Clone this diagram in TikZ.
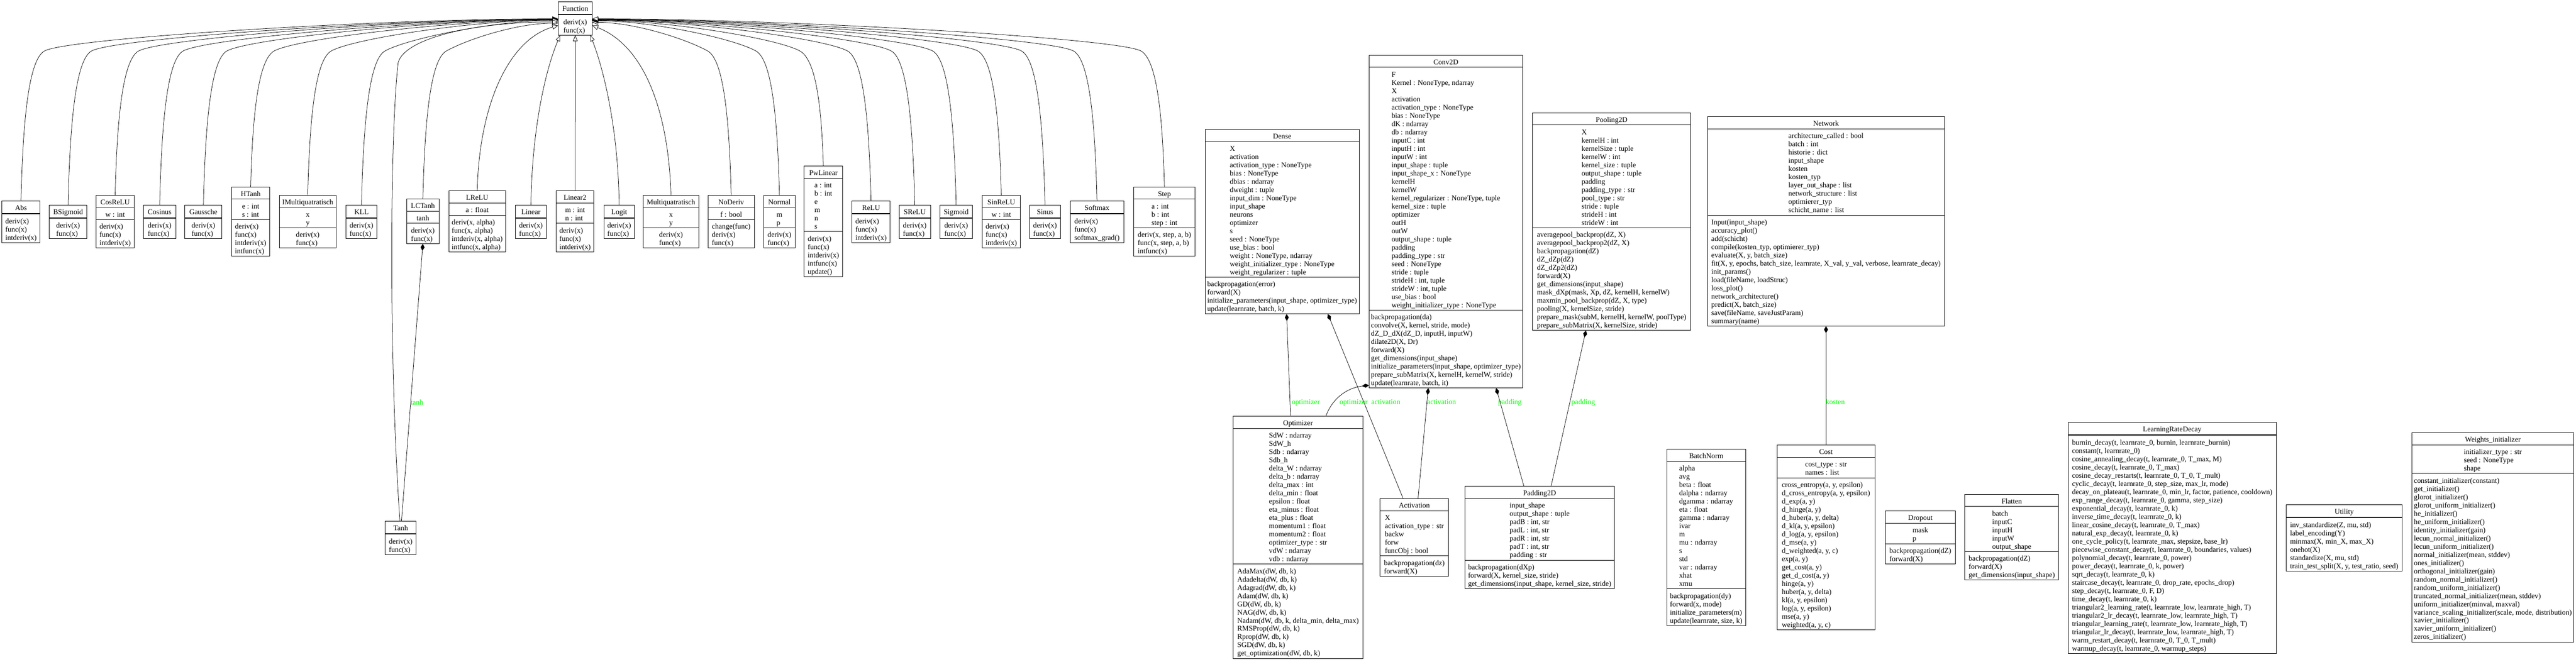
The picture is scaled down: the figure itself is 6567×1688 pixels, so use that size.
\documentclass[tikz,border=0pt]{standalone}
\usepackage{fontspec}
\setmainfont{Liberation Serif}
\usetikzlibrary{arrows.meta,calc}

\tikzset{
  classbox/.style={draw, line width=1.3pt, inner sep=0pt, outer sep=0pt},
  sect/.style={line width=1.3pt},
  txt/.style={inner sep=0pt, outer sep=0pt},
  inh/.style={line width=1pt, -{Triangle[length=15pt,width=12pt,fill=white]}},
  comp/.style={line width=1pt, {Diamond[length=18pt,width=10pt]}-},
  lbl/.style={text=green, inner sep=0pt, outer sep=0pt, anchor=west},
}

% #1 name, #2 left x, #3 top y, #4 width, #5 title, #6 n attrs, #7 attrs, #8 n methods, #9 methods
\newcommand{\umlclass}[9]{%
  \pgfmathsetmacro{\uha}{(#6==0)?2:(21*#6+10)}%
  \pgfmathsetmacro{\uhm}{(#8==0)?2:(21*#8+10)}%
  \pgfmathsetmacro{\uht}{31+\uha+\uhm}%
  \node[classbox, minimum width=#4pt, minimum height=\uht pt, anchor=north west] (#1) at (#2,-#3) {};
  \node[txt, anchor=north] (#1-t) at ($(#1.north)+(0,-8.8)$) {\strut #5};
  \draw[sect] ($(#1.north west)+(0,-31)$) -- ($(#1.north east)+(0,-31)$);
  \ifnum#6>0 \node[txt, anchor=north] (#1-a) at ($(#1.north)+(0,-40.5)$) {\begin{tabular}{@{}l@{}}#7\end{tabular}};\fi
  \draw[sect] ($(#1.north west)+(0,-31-\uha)$) -- ($(#1.north east)+(0,-31-\uha)$);
  \ifnum#8>0 \node[txt, anchor=north] (#1-m) at ($(#1.north)+(0,-40.5-\uha)$) {\begin{tabular}{@{}l@{}}#9\end{tabular}};\fi
}

% generalisation edges to Function (left side / right side)
\newcommand{\inhL}[4]{\draw[inh] (#1.north) .. controls (#2+5,{-0.45*#3-71.5}) and (#2+20,-152) .. (#2+60,-130) .. controls (#2+120,-97) and ({1423-0.35*(1363-#2)},-#4) .. ($(Function.north west)+(0,5-#4)$);}
\newcommand{\inhR}[4]{\draw[inh] (#1.north) .. controls (#2-5,{-0.45*#3-71.5}) and (#2-20,-152) .. (#2-60,-130) .. controls (#2-120,-97) and ({1510+0.35*(#2-1570)},-#4) .. ($(Function.north east)+(0,5-#4)$);}

\begin{document}
\begin{tikzpicture}[x=1pt,y=1pt,font=\fontsize{18.67}{21}\selectfont]
\path[fill=white] (0,0) rectangle (6567,-1688);
\useasboundingbox (0,0) rectangle (6567,-1688);

% ---------- classes ----------
\umlclass{Function}{1423}{5}{87}{Function}{0}{}{2}{deriv(x)\\func(x)}
\umlclass{Abs}{5}{513}{97}{Abs}{0}{}{3}{deriv(x)\\func(x)\\intderiv(x)}
\umlclass{BSigmoid}{126}{524}{95}{BSigmoid}{0}{}{2}{deriv(x)\\func(x)}
\umlclass{CosReLU}{245}{498}{97}{CosReLU}{1}{w : int}{3}{deriv(x)\\func(x)\\intderiv(x)}
\umlclass{Cosinus}{366}{524}{82}{Cosinus}{0}{}{2}{deriv(x)\\func(x)}
\umlclass{Gaussche}{471}{524}{95}{Gaussche}{0}{}{2}{deriv(x)\\func(x)}
\umlclass{HTanh}{591}{477}{96}{HTanh}{2}{e : int\\s : int}{4}{deriv(x)\\func(x)\\intderiv(x)\\intfunc(x)}
\umlclass{IMultiquatratisch}{712}{498}{145}{IMultiquatratisch}{2}{x\\y}{2}{deriv(x)\\func(x)}
\umlclass{KLL}{882}{524}{79}{KLL}{0}{}{2}{deriv(x)\\func(x)}
\umlclass{LCTanh}{1037}{508}{82}{LCTanh}{1}{tanh}{2}{deriv(x)\\func(x)}
\umlclass{LReLU}{1144}{487}{145}{LReLU}{1}{a : float}{4}{deriv(x, alpha)\\func(x, alpha)\\intderiv(x, alpha)\\intfunc(x, alpha)}
\umlclass{Linear}{1314}{524}{79}{Linear}{0}{}{2}{deriv(x)\\func(x)}
\umlclass{Linear2}{1418}{487}{96}{Linear2}{2}{m : int\\n : int}{3}{deriv(x)\\func(x)\\intderiv(x)}
\umlclass{Logit}{1540}{524}{77}{Logit}{0}{}{2}{deriv(x)\\func(x)}
\umlclass{Multiquatratisch}{1640}{498}{141}{Multiquatratisch}{2}{x\\y}{2}{deriv(x)\\func(x)}
\umlclass{NoDeriv}{1805}{498}{118}{NoDeriv}{1}{f : bool}{3}{change(func)\\deriv(x)\\func(x)}
\umlclass{Normal}{1947}{498}{80}{Normal}{2}{m\\p}{2}{deriv(x)\\func(x)}
\umlclass{PwLinear}{2050}{424}{98}{PwLinear}{6}{a : int\\b : int\\e\\m\\n\\s}{5}{deriv(x)\\func(x)\\intderiv(x)\\intfunc(x)\\update()}
\umlclass{ReLU}{2172}{513}{97}{ReLU}{0}{}{3}{deriv(x)\\func(x)\\intderiv(x)}
\umlclass{SReLU}{2292}{524}{80}{SReLU}{0}{}{2}{deriv(x)\\func(x)}
\umlclass{Sigmoid}{2396}{524}{83}{Sigmoid}{0}{}{2}{deriv(x)\\func(x)}
\umlclass{SinReLU}{2504}{498}{97}{SinReLU}{1}{w : int}{3}{deriv(x)\\func(x)\\intderiv(x)}
\umlclass{Sinus}{2625}{524}{78}{Sinus}{0}{}{2}{deriv(x)\\func(x)}
\umlclass{Softmax}{2728}{513}{137}{Softmax}{0}{}{3}{deriv(x)\\func(x)\\softmax\_grad()}
\umlclass{Step}{2890}{477}{157}{Step}{3}{a : int\\b : int\\step : int}{3}{deriv(x, step, a, b)\\func(x, step, a, b)\\intfunc(x)}
\umlclass{Tanh}{982}{1330}{79}{Tanh}{0}{}{2}{deriv(x)\\func(x)}

\umlclass{Dense}{3072}{330}{393}{Dense}{16}{X\\activation\\activation\_type : NoneType\\bias : NoneType\\dbias : ndarray\\dweight : tuple\\input\_dim : NoneType\\input\_shape\\neurons\\optimizer\\s\\seed : NoneType\\use\_bias : bool\\weight : NoneType, ndarray\\weight\_initializer\_type : NoneType\\weight\_regularizer : tuple}{4}{backpropagation(error)\\forward(X)\\initialize\_parameters(input\_shape, optimizer\_type)\\update(learnrate, batch, k)}

\umlclass{Conv2D}{3490}{141}{392}{Conv2D}{29}{F\\Kernel : NoneType, ndarray\\X\\activation\\activation\_type : NoneType\\bias : NoneType\\dK : ndarray\\db : ndarray\\inputC : int\\inputH : int\\inputW : int\\input\_shape : tuple\\input\_shape\_x : NoneType\\kernelH\\kernelW\\kernel\_regularizer : NoneType, tuple\\kernel\_size : tuple\\optimizer\\outH\\outW\\output\_shape : tuple\\padding\\padding\_type : str\\seed : NoneType\\stride : tuple\\strideH : int, tuple\\strideW : int, tuple\\use\_bias : bool\\weight\_initializer\_type : NoneType}{9}{backpropagation(da)\\convolve(X, kernel, stride, mode)\\dZ\_D\_dX(dZ\_D, inputH, inputW)\\dilate2D(X, Dr)\\forward(X)\\get\_dimensions(input\_shape)\\initialize\_parameters(input\_shape, optimizer\_type)\\prepare\_subMatrix(X, kernelH, kernelW, stride)\\update(learnrate, batch, it)}

\umlclass{Pooling2D}{3907}{288}{403}{Pooling2D}{12}{X\\kernelH : int\\kernelSize : tuple\\kernelW : int\\kernel\_size : tuple\\output\_shape : tuple\\padding\\padding\_type : str\\pool\_type : str\\stride : tuple\\strideH : int\\strideW : int}{12}{averagepool\_backprop(dZ, X)\\averagepool\_backprop2(dZ, X)\\backpropagation(dZ)\\dZ\_dZp(dZ)\\dZ\_dZp2(dZ)\\forward(X)\\get\_dimensions(input\_shape)\\mask\_dXp(mask, Xp, dZ, kernelH, kernelW)\\maxmin\_pool\_backprop(dZ, X, type)\\pooling(X, kernelSize, stride)\\prepare\_mask(subM, kernelH, kernelW, poolType)\\prepare\_subMatrix(X, kernelSize, stride)}

\umlclass{Network}{4353}{298}{604}{Network}{10}{architecture\_called : bool\\batch : int\\historie : dict\\input\_shape\\kosten\\kosten\_typ\\layer\_out\_shape : list\\network\_structure : list\\optimierer\_typ\\schicht\_name : list}{13}{Input(input\_shape)\\accuracy\_plot()\\add(schicht)\\compile(kosten\_typ, optimierer\_typ)\\evaluate(X, y, batch\_size)\\fit(X, y, epochs, batch\_size, learnrate, X\_val, y\_val, verbose, learnrate\_decay)\\init\_params()\\load(fileName, loadStruc)\\loss\_plot()\\network\_architecture()\\predict(X, batch\_size)\\save(fileName, saveJustParam)\\summary(name)}

\umlclass{Optimizer}{3143}{1062}{332}{Optimizer}{16}{SdW : ndarray\\SdW\_h\\Sdb : ndarray\\Sdb\_h\\delta\_W : ndarray\\delta\_b : ndarray\\delta\_max : int\\delta\_min : float\\epsilon : float\\eta\_minus : float\\eta\_plus : float\\momentum1 : float\\momentum2 : float\\optimizer\_type : str\\vdW : ndarray\\vdb : ndarray}{11}{AdaMax(dW, db, k)\\Adadelta(dW, db, k)\\Adagrad(dW, db, k)\\Adam(dW, db, k)\\GD(dW, db, k)\\NAG(dW, db, k)\\Nadam(dW, db, k, delta\_min, delta\_max)\\RMSProp(dW, db, k)\\Rprop(dW, db, k)\\SGD(dW, db, k)\\get\_optimization(dW, db, k)}

\umlclass{Activation}{3518}{1272}{175}{Activation}{5}{X\\activation\_type : str\\backw\\forw\\funcObj : bool}{2}{backpropagation(dz)\\forward(X)}

\umlclass{Padding2D}{3734}{1241}{382}{Padding2D}{7}{input\_shape\\output\_shape : tuple\\padB : int, str\\padL : int, str\\padR : int, str\\padT : int, str\\padding : str}{3}{backpropagation(dXp)\\forward(X, kernel\_size, stride)\\get\_dimensions(input\_shape, kernel\_size, stride)}

\umlclass{BatchNorm}{4249}{1146}{201}{BatchNorm}{15}{alpha\\avg\\beta : float\\dalpha : ndarray\\dgamma : ndarray\\eta : float\\gamma : ndarray\\ivar\\m\\mu : ndarray\\s\\std\\var : ndarray\\xhat\\xmu}{4}{backpropagation(dy)\\forward(x, mode)\\initialize\_parameters(m)\\update(learnrate, size, k)}

\umlclass{Cost}{4530}{1136}{250}{Cost}{2}{cost\_type : str\\names : list}{18}{cross\_entropy(a, y, epsilon)\\d\_cross\_entropy(a, y, epsilon)\\d\_exp(a, y)\\d\_hinge(a, y)\\d\_huber(a, y, delta)\\d\_kl(a, y, epsilon)\\d\_log(a, y, epsilon)\\d\_mse(a, y)\\d\_weighted(a, y, c)\\exp(a, y)\\get\_cost(a, y)\\get\_d\_cost(a, y)\\hinge(a, y)\\huber(a, y, delta)\\kl(a, y, epsilon)\\log(a, y, epsilon)\\mse(a, y)\\weighted(a, y, c)}

\umlclass{Dropout}{4806}{1304}{179}{Dropout}{2}{mask\\p}{2}{backpropagation(dZ)\\forward(X)}

\umlclass{Flatten}{5009}{1261}{239}{Flatten}{5}{batch\\inputC\\inputH\\inputW\\output\_shape}{3}{backpropagation(dZ)\\forward(X)\\get\_dimensions(input\_shape)}

\umlclass{LRDecay}{5272}{1078}{531}{LearningRateDecay}{0}{}{26}{burnin\_decay(t, learnrate\_0, burnin, learnrate\_burnin)\\constant(t, learnrate\_0)\\cosine\_annealing\_decay(t, learnrate\_0, T\_max, M)\\cosine\_decay(t, learnrate\_0, T\_max)\\cosine\_decay\_restarts(t, learnrate\_0, T\_0, T\_mult)\\cyclic\_decay(t, learnrate\_0, step\_size, max\_lr, mode)\\decay\_on\_plateau(t, learnrate\_0, min\_lr, factor, patience, cooldown)\\exp\_range\_decay(t, learnrate\_0, gamma, step\_size)\\exponential\_decay(t, learnrate\_0, k)\\inverse\_time\_decay(t, learnrate\_0, k)\\linear\_cosine\_decay(t, learnrate\_0, T\_max)\\natural\_exp\_decay(t, learnrate\_0, k)\\one\_cycle\_policy(t, learnrate\_max, stepsize, base\_lr)\\piecewise\_constant\_decay(t, learnrate\_0, boundaries, values)\\polynomial\_decay(t, learnrate\_0, power)\\power\_decay(t, learnrate\_0, k, power)\\sqrt\_decay(t, learnrate\_0, k)\\staircase\_decay(t, learnrate\_0, drop\_rate, epochs\_drop)\\step\_decay(t, learnrate\_0, F, D)\\time\_decay(t, learnrate\_0, k)\\triangular2\_learning\_rate(t, learnrate\_low, learnrate\_high, T)\\triangular2\_lr\_decay(t, learnrate\_low, learnrate\_high, T)\\triangular\_learning\_rate(t, learnrate\_low, learnrate\_high, T)\\triangular\_lr\_decay(t, learnrate\_low, learnrate\_high, T)\\warm\_restart\_decay(t, learnrate\_0, T\_0, T\_mult)\\warmup\_decay(t, learnrate\_0, warmup\_steps)}

\umlclass{Utility}{5828}{1288}{296}{Utility}{0}{}{6}{inv\_standardize(Z, mu, std)\\label\_encoding(Y)\\minmax(X, min\_X, max\_X)\\onehot(X)\\standardize(X, mu, std)\\train\_test\_split(X, y, test\_ratio, seed)}

\umlclass{WInit}{6149}{1104}{412}{Weights\_initializer}{3}{initializer\_type : str\\seed : NoneType\\shape}{20}{constant\_initializer(constant)\\get\_initializer()\\glorot\_initializer()\\glorot\_uniform\_initializer()\\he\_initializer()\\he\_uniform\_initializer()\\identity\_initializer(gain)\\lecun\_normal\_initializer()\\lecun\_uniform\_initializer()\\normal\_initializer(mean, stddev)\\ones\_initializer()\\orthogonal\_initializer(gain)\\random\_normal\_initializer()\\random\_uniform\_initializer()\\truncated\_normal\_initializer(mean, stddev)\\uniform\_initializer(minval, maxval)\\variance\_scaling\_initializer(scale, mode, distribution)\\xavier\_initializer()\\xavier\_uniform\_initializer()\\zeros\_initializer()}

% ---------- generalisation to Function ----------
\inhL{Abs}{53.5}{513}{48}
\inhL{BSigmoid}{173.5}{524}{49}
\inhL{CosReLU}{293.5}{498}{49}
\inhL{Cosinus}{407}{524}{50}
\inhL{Gaussche}{518.5}{524}{50}
\inhL{HTanh}{639}{477}{51}
\inhL{IMultiquatratisch}{784.5}{498}{51}
\inhL{KLL}{921.5}{524}{52}
\inhL{LCTanh}{1078}{508}{59}
\draw[inh] ($(Tanh.north)+(-2,0)$) .. controls (990,-900) and (995,-330) .. (1015,-160) .. controls (1030,-100) and (1200,-56) .. ($(Function.north west)+(0,-51)$);
\draw[inh] (LReLU.north) .. controls (1222,-260) and (1300,-100) .. ($(Function.north west)+(0,-60)$);
\draw[inh] (Linear.north) .. controls (1356,-330) and (1390,-180) .. ($(Function.south west)+(5,0)$);
\draw[inh] (Linear2.north) -- (Function.south);
\draw[inh] (Logit.north) .. controls (1576,-330) and (1540,-180) .. ($(Function.south east)+(-5,0)$);
\draw[inh] (Multiquatratisch.north) .. controls (1705,-300) and (1650,-120) .. ($(Function.north east)+(0,-60)$);
\inhR{NoDeriv}{1864}{498}{57}
\inhR{Normal}{1987}{498}{53}
\inhR{PwLinear}{2099}{424}{52}
\inhR{ReLU}{2220.5}{513}{51}
\inhR{SReLU}{2332}{524}{51}
\inhR{Sigmoid}{2437.5}{524}{50}
\inhR{SinReLU}{2552.5}{498}{50}
\inhR{Sinus}{2664}{524}{49}
\inhR{Softmax}{2796.5}{513}{49}
\inhR{Step}{2968.5}{477}{48}

% ---------- compositions ----------
\draw[comp] (LCTanh.south) -- ($(Tanh.north)+(2,0)$);
\draw[comp] ($(Dense.south west)+(208,0)$) -- ($(Optimizer.north west)+(147,0)$);
\draw[comp] ($(Dense.south west)+(313,0)$) -- ($(Activation.north west)+(59,0)$);
\draw[comp] ($(Conv2D.south west)+(0,7)$) .. controls (3430,-990) and (3395,-1020) .. ($(Optimizer.north west)+(237,0)$);
\draw[comp] ($(Conv2D.south west)+(151,0)$) -- ($(Activation.north west)+(97,0)$);
\draw[comp] ($(Conv2D.south west)+(324,0)$) -- ($(Padding2D.north west)+(151,0)$);
\draw[comp] ($(Pooling2D.south west)+(136,0)$) -- ($(Padding2D.north west)+(220,0)$);
\draw[comp] (Network.south) -- (Cost.north);

% ---------- labels ----------
\node[lbl] (lb-tanh) at (1047,-1029) {\strut tanh};
\node[lbl] (lb-opt1) at (3293,-1028) {\strut optimizer};
\node[lbl] (lb-opt2) at (3415,-1028) {\strut optimizer};
\node[lbl] (lb-act1) at (3496,-1028) {\strut activation};
\node[lbl] (lb-act2) at (3638,-1028) {\strut activation};
\node[lbl] (lb-pad1) at (3819,-1028) {\strut padding};
\node[lbl] (lb-pad2) at (4006,-1028) {\strut padding};
\node[lbl] (lb-kost) at (4654,-1028) {\strut kosten};
\end{tikzpicture}
\end{document}
